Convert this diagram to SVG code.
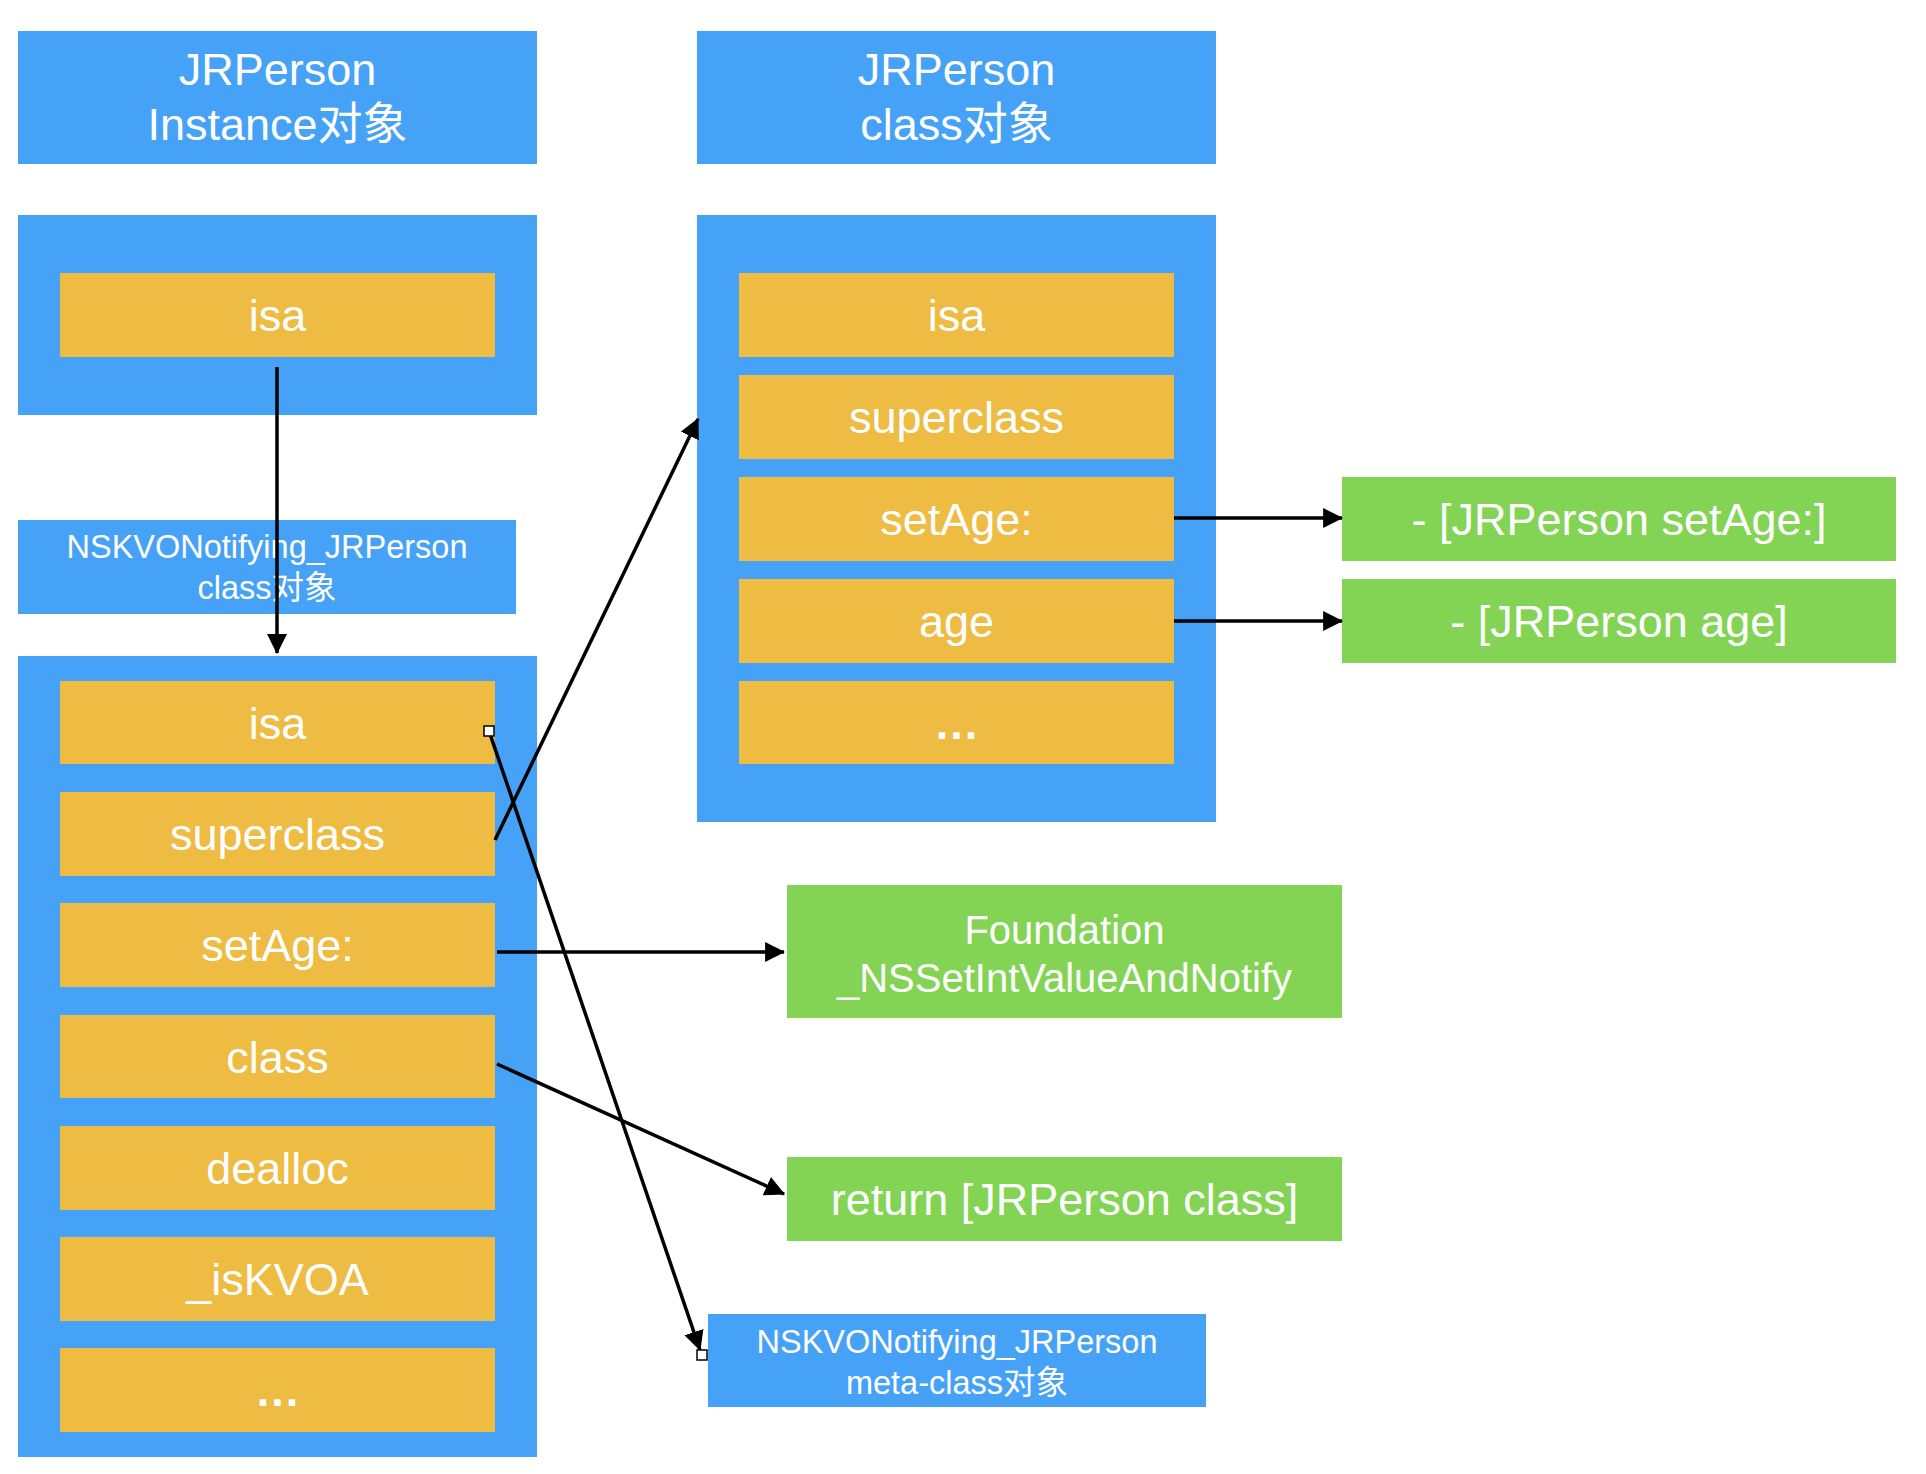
<svg xmlns="http://www.w3.org/2000/svg" width="1926" height="1474" viewBox="0 0 1926 1474">
<style>
.blue{fill:#46A2F6}
.orange{fill:#EEBB43}
.green{fill:#83D455}
text{font-family:"Liberation Sans","Noto Sans CJK SC",sans-serif;fill:#ffffff;text-anchor:middle}
.t45{font-size:45px}
.t40{font-size:40px}
.t32{font-size:32.5px}
.dots{letter-spacing:2px;font-weight:bold}
.conn line{stroke:#000;stroke-width:3.5;fill:none;marker-end:url(#ah)}
.handle{fill:#fff;stroke:#000;stroke-width:1.5}
</style>
<defs>
<marker id="ah" markerUnits="userSpaceOnUse" markerWidth="20" markerHeight="20" viewBox="0 0 18 18" refX="17" refY="9" orient="auto">
<path d="M0,0 L18,9 L0,18 z" fill="#000"/>
</marker>
</defs>
<rect width="1926" height="1474" fill="#ffffff"/>

<g id="header-instance">
<rect class="blue" x="18" y="31" width="519" height="133"/>
<text class="t45" x="277.5" y="85">JRPerson</text>
<text class="t45" x="277.5" y="140">Instance对象</text>
</g>
<g id="header-class">
<rect class="blue" x="697" y="31" width="519" height="133"/>
<text class="t45" x="956.5" y="85">JRPerson</text>
<text class="t45" x="956.5" y="140">class对象</text>
</g>

<g id="instance-object">
<rect class="blue" x="18" y="215" width="519" height="200"/>
<g id="instance-isa">
<rect class="orange" x="60" y="273" width="435" height="84"/>
<text class="t45" x="277.5" y="331">isa</text>
</g>
</g>

<g id="kvo-class-label">
<rect class="blue" x="18" y="520" width="498" height="94"/>
<text class="t32" x="267" y="558">NSKVONotifying_JRPerson</text>
<text class="t32" x="267" y="599">class对象</text>
</g>

<g id="kvo-class-object">
<rect class="blue" x="18" y="656" width="519" height="801"/>
<g id="kvo-isa"><rect class="orange" x="60" y="681" width="435" height="83"/><text class="t45" x="277.5" y="739">isa</text></g>
<g id="kvo-superclass"><rect class="orange" x="60" y="792" width="435" height="84"/><text class="t45" x="277.5" y="850">superclass</text></g>
<g id="kvo-setAge"><rect class="orange" x="60" y="903" width="435" height="84"/><text class="t45" x="277.5" y="961">setAge:</text></g>
<g id="kvo-class"><rect class="orange" x="60" y="1015" width="435" height="83"/><text class="t45" x="277.5" y="1073">class</text></g>
<g id="kvo-dealloc"><rect class="orange" x="60" y="1126" width="435" height="84"/><text class="t45" x="277.5" y="1184">dealloc</text></g>
<g id="kvo-isKVOA"><rect class="orange" x="60" y="1237" width="435" height="84"/><text class="t45" x="277.5" y="1295">_isKVOA</text></g>
<g id="kvo-more"><rect class="orange" x="60" y="1348" width="435" height="84"/><text class="t45 dots" x="278.5" y="1406">...</text></g>
</g>

<g id="class-object">
<rect class="blue" x="697" y="215" width="519" height="607"/>
<g id="class-isa"><rect class="orange" x="739" y="273" width="435" height="84"/><text class="t45" x="956.5" y="331">isa</text></g>
<g id="class-superclass"><rect class="orange" x="739" y="375" width="435" height="84"/><text class="t45" x="956.5" y="433">superclass</text></g>
<g id="class-setAge"><rect class="orange" x="739" y="477" width="435" height="84"/><text class="t45" x="956.5" y="535">setAge:</text></g>
<g id="class-age"><rect class="orange" x="739" y="579" width="435" height="84"/><text class="t45" x="956.5" y="637">age</text></g>
<g id="class-more"><rect class="orange" x="739" y="681" width="435" height="83"/><text class="t45 dots" x="957.5" y="739">...</text></g>
</g>

<g id="impl-setAge">
<rect class="green" x="1342" y="477" width="554" height="84"/>
<text class="t45" x="1619" y="535">- [JRPerson setAge:]</text>
</g>
<g id="impl-age">
<rect class="green" x="1342" y="579" width="554" height="84"/>
<text class="t45" x="1619" y="637">- [JRPerson age]</text>
</g>

<g id="foundation">
<rect class="green" x="787" y="885" width="555" height="133"/>
<text class="t40" x="1064.5" y="944">Foundation</text>
<text class="t40" x="1064.5" y="992">_NSSetIntValueAndNotify</text>
</g>
<g id="return-class">
<rect class="green" x="787" y="1157" width="555" height="84"/>
<text class="t45" x="1064.5" y="1215">return [JRPerson class]</text>
</g>

<g id="meta-class">
<rect class="blue" x="708" y="1314" width="498" height="93"/>
<text class="t32" x="957" y="1353">NSKVONotifying_JRPerson</text>
<text class="t32" x="957" y="1394">meta-class对象</text>
</g>

<g id="connectors" class="conn">
<line x1="277" y1="367" x2="277" y2="653"/>
<line x1="495" y1="840" x2="698" y2="419"/>
<line x1="497" y1="952" x2="784" y2="952"/>
<line x1="497" y1="1064" x2="784" y2="1194"/>
<line x1="1174" y1="518" x2="1342" y2="518"/>
<line x1="1174" y1="621" x2="1342" y2="621"/>
<line x1="489" y1="731" x2="700" y2="1350"/>
<rect class="handle" x="484" y="726" width="10" height="10"/>
<rect class="handle" x="697" y="1350" width="10" height="10"/>
</g>
</svg>
